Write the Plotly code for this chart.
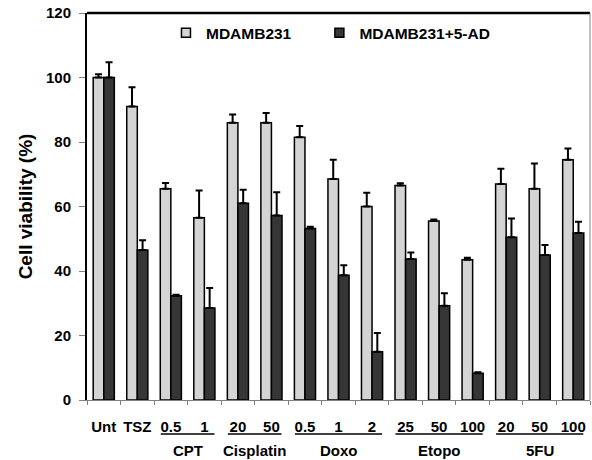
import plotly.graph_objects as go

tick_labels = ["Unt", "TSZ", "0.5", "1", "20", "50", "0.5", "1", "2", "25", "50", "100", "20", "50", "100"]
groups = ["CPT", "Cisplatin", "Doxo", "Etopo", "5FU"]
group_members = [[2, 3], [4, 5], [6, 7, 8], [9, 10, 11], [12, 13, 14]]

mdamb = [100, 91, 65.5, 56.5, 86, 86, 81.5, 68.5, 60, 66.5, 55.5, 43.5, 67, 65.5, 74.5]
mdamb_err = [1, 6, 1.8, 8.5, 2.5, 3, 3.5, 6, 4.3, 0.7, 0.5, 0.6, 4.7, 7.8, 3.5]
mdamb_ad = [100, 46.5, 32.3, 28.5, 61, 57.2, 53.2, 38.7, 15, 43.7, 29.2, 8.3, 50.5, 45, 51.8]
mdamb_ad_err = [4.7, 3, 0.3, 6.2, 4.2, 7.2, 0.5, 3.1, 5.8, 2, 3.9, 0.3, 5.8, 3.1, 3.5]

series_names = ["MDAMB231", "MDAMB231+5-AD"]
series_colors = ["#d4d4d4", "#363636"]
legend_ids = ["legend", "legend2"]

x = list(range(len(tick_labels)))
font_family = "Liberation Sans, Arial, sans-serif"

fig = go.Figure()
for name, vals, errs, col in zip(series_names, [mdamb, mdamb_ad], [mdamb_err, mdamb_ad_err], series_colors):
    fig.add_trace(go.Bar(
        x=x, y=vals, name=name, legendgroup=name, showlegend=False,
        marker=dict(color=col, line=dict(color="black", width=1.5)),
        error_y=dict(type="data", array=errs, arrayminus=[0] * len(errs),
                     symmetric=False, color="black", thickness=2, width=3.5),
    ))
# legend entries with compact square symbols
for name, col, lid in zip(series_names, series_colors, legend_ids):
    fig.add_trace(go.Scatter(
        x=[None], y=[None], mode="markers", name=name, legendgroup=name, legend=lid,
        marker=dict(symbol="square", size=9, color=col, line=dict(color="black", width=1.5)),
    ))

# group labels and underlines
for name, members in zip(groups, group_members):
    x0 = min(members) - 0.3
    x1 = max(members) + 0.3
    fig.add_shape(type="line", xref="x", yref="paper", x0=x0, x1=x1, y0=-0.088, y1=-0.088,
                  line=dict(color="black", width=1.5))
    fig.add_annotation(x=sum(members) / len(members), y=-0.13, xref="x", yref="paper",
                       text=name, showarrow=False, yanchor="middle",
                       font=dict(family=font_family, size=15, color="black", weight="bold"))

# top and right border
fig.add_shape(type="line", xref="paper", yref="paper", x0=0, x1=1, y0=1, y1=1,
              line=dict(color="black", width=2.5))
fig.add_shape(type="line", xref="paper", yref="paper", x0=1, x1=1, y0=0, y1=1,
              line=dict(color="#808080", width=1))

legend_style = dict(orientation="h", y=0.948, xanchor="left", yanchor="middle",
                    bgcolor="rgba(0,0,0,0)", font=dict(size=15.5, weight="bold"),
                    itemwidth=30)

fig.update_layout(
    width=592, height=460,
    margin=dict(l=87, r=2, t=13, b=60),
    paper_bgcolor="white", plot_bgcolor="white",
    barmode="group", bargap=0.37, bargroupgap=0,
    font=dict(family=font_family, size=15, color="black", weight="bold"),
    legend=dict(x=0.157, **legend_style),
    legend2=dict(x=0.462, **legend_style),
    xaxis=dict(
        tickmode="array", tickvals=x, ticktext=tick_labels,
        range=[-0.5, len(x) - 0.5],
        showline=True, linecolor="#808080", linewidth=1,
        ticks="", ticklabelstandoff=13,
        tickfont=dict(size=15, weight="bold"),
        minor=dict(tickmode="array", tickvals=[i - 0.5 for i in range(len(x) + 1)],
                   ticks="outside", ticklen=4, tickcolor="#808080", tickwidth=1),
        showgrid=False, zeroline=False,
    ),
    yaxis=dict(
        range=[0, 120], tickvals=[0, 20, 40, 60, 80, 100, 120],
        showline=True, linecolor="black", linewidth=2,
        ticks="outside", ticklen=6, tickcolor="#808080",
        ticklabelstandoff=5,
        tickfont=dict(size=15, weight="bold"),
        title=dict(text="Cell viability (%)", font=dict(size=19, weight="bold"), standoff=8),
        showgrid=False, zeroline=False,
    ),
)

fig.write_html("out.html")
